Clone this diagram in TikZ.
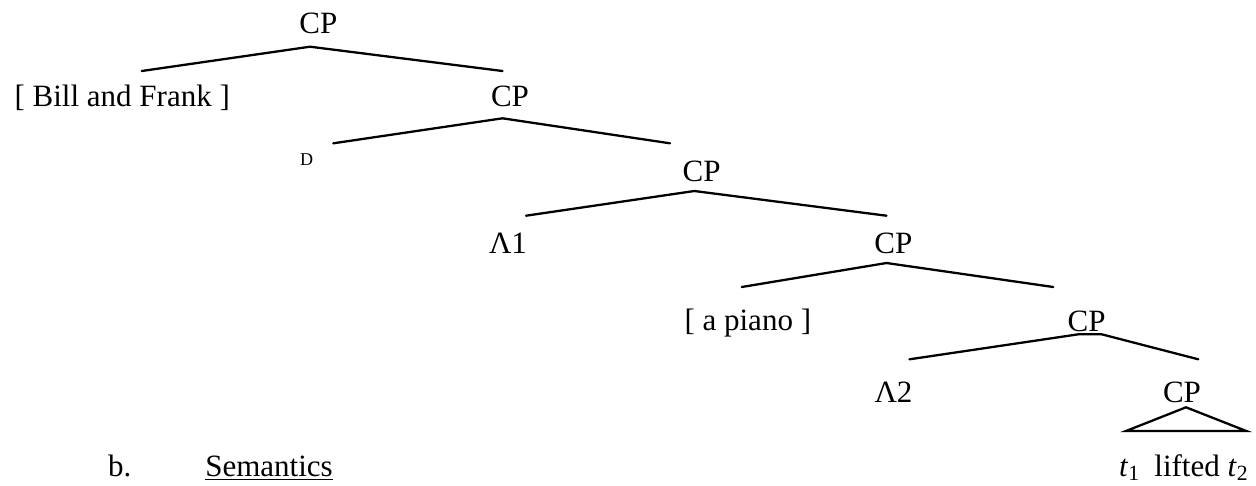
\documentclass[tikz,border=0pt]{standalone}
\usepackage{fontspec}
\setmainfont{Liberation Serif}
\begin{document}
\begin{tikzpicture}[x=0.3934pt,y=-0.3934pt,
  lbl/.style={anchor=base,inner sep=0pt,font=\fontsize{12.2}{14}\selectfont},
  tiny/.style={lbl,font=\fontsize{7.1}{8}\selectfont},
  branch/.style={line width=0.9pt,line cap=round,line join=miter}]
\useasboundingbox (0,0) rectangle (1256,485);

% labels of the tree
\node[lbl]  (cp0)   at (318.3,33)   {CP};
\node[lbl]  (bf)    at (122.2,106)  {[ Bill and Frank ]};
\node[lbl]  (cp1)   at (510,106)    {CP};
\node[tiny] (d)     at (306.7,165)  {D};
\node[lbl]  (cp2)   at (701.7,181)  {CP};
\node[lbl]  (lam1)  at (508,253)    {Λ1};
\node[lbl]  (cp3)   at (893.3,253)  {CP};
\node[lbl]  (piano) at (747.8,330.5){[ a piano ]};
\node[lbl]  (cp4)   at (1086.7,331) {CP};
\node[lbl]  (lam2)  at (893.5,402.5){Λ2};
\node[lbl]  (cp5)   at (1182,402.5) {CP};
\node[lbl]  (terms) at (1184,476)
  {\textit{t}\textsubscript{1}\hspace{0.45em}lifted \textit{t}\textsubscript{2}};
\node[lbl]  (b)     at (119.7,476)  {b.};
\node[lbl]  (sem)   at (269,476)    {\underline{Semantics}};

% branch points
\coordinate (cp0-top) at (310,46.7);
\coordinate (cp0-l)   at (141.7,71);
\coordinate (cp0-r)   at (502.5,71);
\coordinate (cp1-top) at (502.5,118.3);
\coordinate (cp1-l)   at (333.3,143.3);
\coordinate (cp1-r)   at (670,143.3);
\coordinate (cp2-top) at (694.3,191);
\coordinate (cp2-l)   at (526,215.7);
\coordinate (cp2-r)   at (886.5,215.7);
\coordinate (cp3-top) at (886.5,263);
\coordinate (cp3-l)   at (741.7,287);
\coordinate (cp3-r)   at (1053.3,287);
\coordinate (cp4-topl) at (1078.3,334.3);
\coordinate (cp4-topr) at (1101.7,334.3);
\coordinate (cp4-l)   at (909.5,359.3);
\coordinate (cp4-r)   at (1198.3,359.3);
\coordinate (cp5-top) at (1186,407.3);
\coordinate (cp5-l)   at (1126,431);
\coordinate (cp5-r)   at (1246.3,431);

% branches
\draw[branch] (cp0-l) -- (cp0-top) -- (cp0-r);
\draw[branch] (cp1-l) -- (cp1-top) -- (cp1-r);
\draw[branch] (cp2-l) -- (cp2-top) -- (cp2-r);
\draw[branch] (cp3-l) -- (cp3-top) -- (cp3-r);
\draw[branch] (cp4-l) -- (cp4-topl) -- (cp4-topr) -- (cp4-r);
\draw[branch] (cp5-top) -- (cp5-l) -- (cp5-r) -- cycle;
\end{tikzpicture}
\end{document}
